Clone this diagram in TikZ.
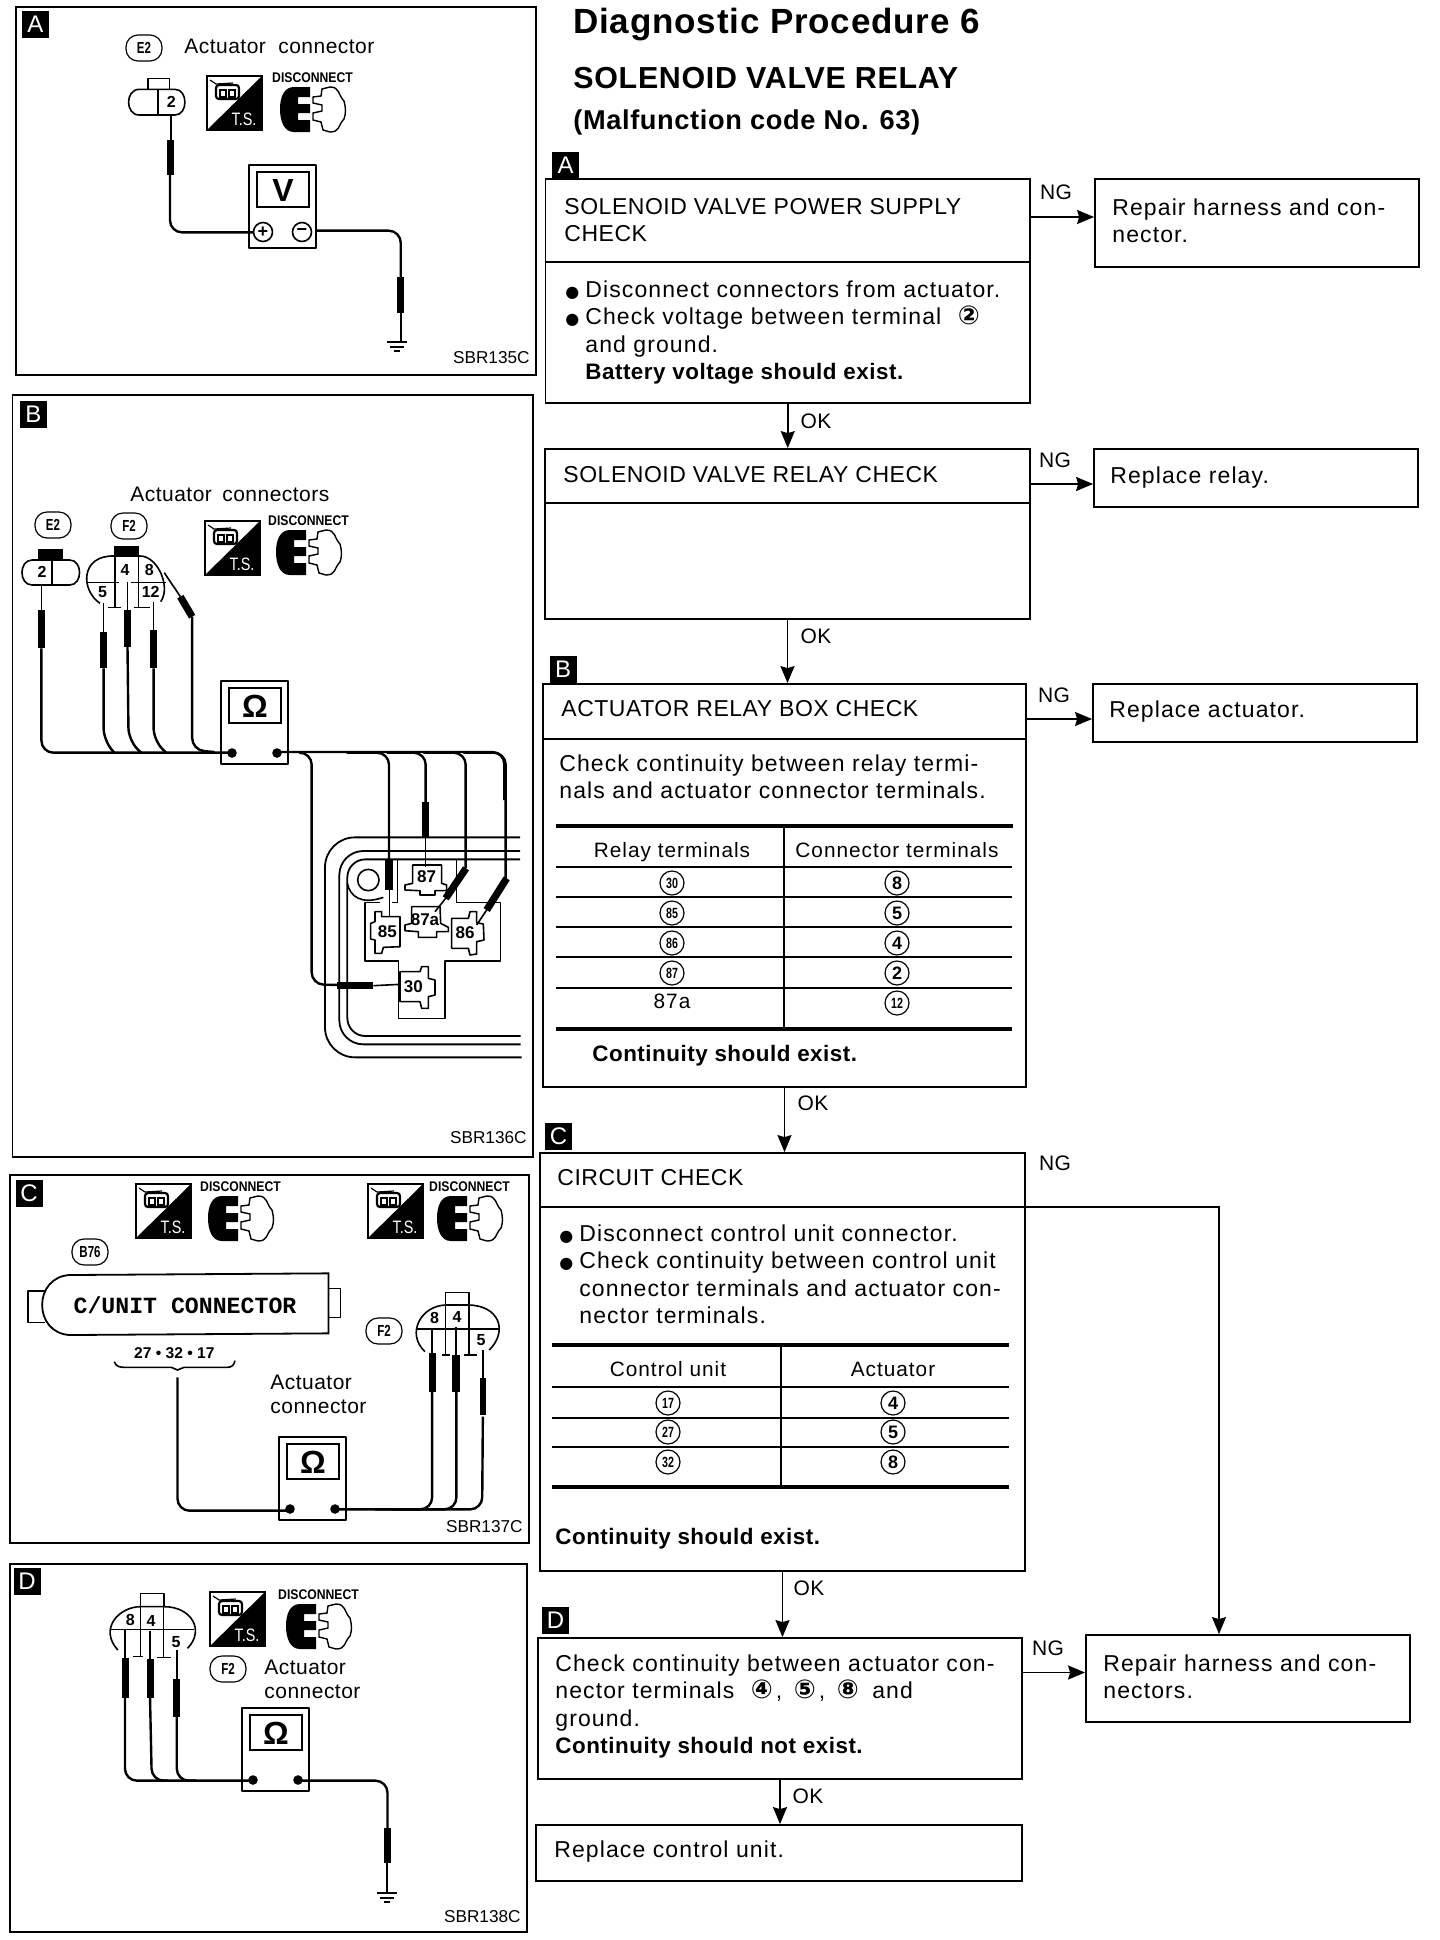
\documentclass[tikz,border=0pt]{standalone}
\usepackage{fontspec}
\usetikzlibrary{arrows.meta,fit}
\setmainfont[LetterSpace=2.3]{Liberation Sans}
\newfontfamily\plainfam{Liberation Sans}
\newfontfamily\bodyfam[LetterSpace=4.8]{Liberation Sans}
\newfontfamily\djfam{DejaVu Sans}
\newfontfamily\monofam{Liberation Mono}
\newcommand\tfont{\fontsize{11.5}{13.75}\selectfont}
\newcommand\lblfont{\fontsize{10.5}{13}\selectfont}
\newcommand\smfont{\fontsize{8.6}{10}\selectfont}
\newcommand\bul{\makebox[10pt][l]{\djfam\fontsize{8}{8}\selectfont ●}}
\newcommand\ind{\hspace*{10pt}}
\newcommand\bd[1]{{\normalfont\bfseries\fontsize{11.2}{13.75}\selectfont #1}}
\newcommand\cn[1]{{\djfam\bfseries\fontsize{13}{13}\selectfont #1}}
\newcommand\nar[1]{\scalebox{.72}[1]{#1}}
\tikzset{
 ln/.style={line width=.8pt,line join=round},
 wire/.style={line width=1.2pt,line join=round,rounded corners=6pt},
 twire/.style={line width=.8pt},
 sheath/.style={line width=3.6pt},
 dotn/.style={circle,fill=black,inner sep=0,minimum size=4.8pt},
 bx/.style={draw,line width=.9pt,inner sep=0},
 tl/.style={anchor=north west,inner sep=0,align=left,font=\bodyfam\tfont},
 tc/.style={anchor=north west,inner sep=0,align=left,font=\tfont},
 lbl/.style={fill=black,text=white,inner sep=0,minimum width=13.5pt,minimum height=13.5pt,font=\plainfam\fontsize{12}{12}\selectfont},
 pill/.style={draw,line width=.6pt,rounded corners=6pt,inner sep=0,minimum width=18pt,minimum height=13pt,font=\plainfam\bfseries\fontsize{8}{8}\selectfont},
 cnum/.style={circle,draw,line width=.6pt,inner sep=0,minimum size=12pt,font=\plainfam\bfseries\fontsize{7.4}{7.4}\selectfont},
 cnumb/.style={cnum,font=\plainfam\bfseries\fontsize{9}{9}\selectfont},
 numt/.style={inner sep=0,font=\plainfam\bfseries\fontsize{8}{8}\selectfont},
 relt/.style={inner sep=0,font=\plainfam\bfseries\fontsize{8.5}{8.5}\selectfont},
 capt/.style={inner sep=0,font=\lblfont,align=left,anchor=north west},
 sbr/.style={inner sep=0,font=\plainfam\smfont,anchor=east},
 hdr/.style={inner sep=0,text height=7.4pt,text depth=2pt,font=\bodyfam\fontsize{10.4}{12}\selectfont},
 arr/.style={line width=.8pt,-{Stealth[length=8.5pt,width=7pt,inset=1pt]}},
 zk/.style={x=0.17857pt,y=-0.16667pt},
 zt/.style={x=0.16667pt,y=-0.16667pt},
 tsicon/.pic={
  \draw[line width=.8pt,fill=white] (0,0) rectangle (55,54);
  \fill (55,0)--(55,54)--(0,54)--cycle;
  \draw[line width=.6pt] (3,4)--(9,8)--(26,7);
  \draw[line width=1.1pt,rounded corners=1.5pt] (9,9) rectangle (32,23);
  \draw[line width=.7pt] (13,14) rectangle (19,21) (22,14) rectangle (28,21);
  \node[inner sep=0,text=white,font=\plainfam\fontsize{9}{9}\selectfont] (-t) at (37,43) {\scalebox{.8}[1]{T.S.}};
 },
 discon/.pic={
  \fill (30,0)--(14,0).. controls (4,0) and (0,10) .. (0,22) .. controls (0,34) and (4,45) .. (14,45)--(30,45)--(30,33)--(18,33)--(18,26)--(30,26)--(30,17)--(18,17)--(18,10)--(30,10)--cycle;
  \draw[line width=.7pt,fill=white] (33,10)--(41,9)--(42,2)--(50,0).. controls (60,0) and (58,8) .. (64,14) .. controls (66,22) and (66,26) .. (64,32) .. controls (58,38) and (60,45) .. (50,45)--(43,43)--(41,35)--(33,33)--(33,26)--(42,24)--(42,18)--(33,16)--cycle;
  \node[inner sep=0,font=\plainfam\bfseries\fontsize{7}{7}\selectfont] (-d) at (32.5,-9) {\scalebox{.87}[1]{DISCONNECT}};
 },
 pics/meter/.style={code={
  \draw[ln] (0,0) rectangle (67,83);
  \draw[line width=.9pt] (8,7) rectangle (60,42);
  \node[inner sep=0,font=\plainfam\bfseries\fontsize{16}{16}\selectfont] (-s) at (34,25) {#1};
  \coordinate (-l) at (11,72);
  \coordinate (-r) at (56,72);
 }},
 gnd/.pic={
  \draw[line width=.8pt] (-10,0)--(10,0) (-7,5)--(7,5) (-3,9)--(3,9);
 }
}
\begin{document}
\begin{tikzpicture}[x=0.5pt,y=-0.5pt]
\useasboundingbox[fill=white] (0,0) rectangle (1440,1940);

%% ---------- panels ----------
\coordinate (pa1) at (16,7);\coordinate (pa2) at (536,375);
\coordinate (pb1) at (12.5,395);\coordinate (pb2) at (533,1157);
\coordinate (pc1) at (10,1175);\coordinate (pc2) at (529,1543);
\coordinate (pd1) at (10,1564);\coordinate (pd2) at (527,1932);
\node[bx,fit=(pa1)(pa2)] (panelA) {};
\node[bx,fit=(pb1)(pb2)] (panelB) {};
\node[bx,fit=(pc1)(pc2)] (panelC) {};
\node[bx,fit=(pd1)(pd2)] (panelD) {};
\node[lbl] (la) at (35.5,24) {A};
\node[lbl] (lb) at (33.5,414) {B};
\node[lbl] (lc) at (29,1193) {C};
\node[lbl] (ld) at (27,1581) {D};
\node[sbr] (sa) at (530,358) {SBR135C};
\node[sbr] (sb) at (527,1138) {SBR136C};
\node[sbr] (sc) at (523,1527) {SBR137C};
\node[sbr] (sd) at (521,1917) {SBR138C};

%% ---------- panel A ----------
\node[pill] (pillA) at (144,48) {\nar{E2}};
\node[capt,anchor=west] (capA) at (184,46) {Actuator\hspace{3pt} connector};
\pic (tsA) at (207,76) {tsicon};
\pic (dcA) at (280,87) {discon};
\pic (mA) at (249,165) {meter={V}};
\node[circle,draw,line width=.8pt,inner sep=0,minimum size=9.5pt,font=\plainfam\bfseries\fontsize{9}{9}\selectfont] (mAp) at (263,232) {+};
\node[circle,draw,line width=.8pt,inner sep=0,minimum size=9.5pt,font=\plainfam\bfseries\fontsize{9}{9}\selectfont] (mAm) at (302,232) {−};
\pic (gA) at (397,342) {gnd};
\begin{scope}[shift={(0,0)},zk]
 \draw[ln] (415,268)--(415,235)--(475,235)--(475,268);
 \draw[ln] (390,268)--(490,268).. controls (527,268) and (527,345) .. (490,345)--(390,345).. controls (350,345) and (350,268) .. (390,268)--cycle;
 \draw[ln] (442,268)--(442,345);
 \node[numt] (a2) at (480,305) {2};
 \draw[twire] (478,345)--(478,425);
 \draw[sheath] (478,420)--(478,525);
 \draw[wire] (476,525)--(476,697)--(708,697);
 \draw[wire] (884,692)--(1122,692)--(1122,835);
 \draw[sheath] (1122,830)--(1122,940);
 \draw[twire] (1122,940)--(1122,1027);
\end{scope}

%% ---------- panel B ----------
\node[capt,anchor=west] (capB) at (130,494) {Actuator\hspace{2pt} connectors};
\node[pill] (pillB1) at (53,525) {\nar{E2}};
\node[pill] (pillB2) at (129,526) {\nar{F2}};
\pic (tsB) at (205,521) {tsicon};
\pic (dcB) at (276,530) {discon};
\pic (mB) at (221,681) {meter={Ω}};
\node[dotn] (mBl) at (mB-l) {};
\node[dotn] (mBr) at (mB-r) {};
\begin{scope}[shift={(0,400)},zk]
 \fill (107,447) rectangle (177,480);
 \draw[ln] (90,480)--(195,480).. controls (232,480) and (232,555) .. (195,555)--(90,555).. controls (52,555) and (52,480) .. (90,480)--cycle;
 \draw[ln] (145,480)--(145,555);
 \node[numt] (b2) at (118,515) {2};
 \fill (320,437) rectangle (390,470);
 \draw[ln] (280,610).. controls (225,570) and (225,465) .. (320,468)--(390,468).. controls (440,465) and (480,560) .. (450,605);
 \draw[ln] (242,548)--(332,548) (368,548)--(465,548);
 \draw[ln] (322,468)--(322,622) (302,622)--(340,622);
 \draw[ln] (388,468)--(388,622) (375,622)--(420,622);
 \node[numt] (b5) at (287,577) {5};
 \node[numt] (b4) at (350,510) {4};
 \node[numt] (b8) at (418,510) {8};
 \node[numt] (b12) at (422,576) {12};
 \draw[twire] (116,555)--(116,635);
 \draw[sheath] (116,630)--(116,745);
 \draw[wire] (116,745)--(116,1058)--(650,1058);
 \draw[twire] (290,608)--(290,700);
 \draw[sheath] (290,695)--(290,805);
 \draw[wire] (290,805)--(290,1020)--(320,1058);
 \draw[twire] (357,545)--(357,635);
 \draw[sheath] (357,630)--(357,740);
 \draw[wire] (357,740)--(360,1020)--(395,1058);
 \draw[twire] (430,605)--(430,695);
 \draw[sheath] (430,690)--(430,805);
 \draw[wire] (430,805)--(430,1020)--(465,1058);
 \draw[twire] (460,518)--(505,590);
 \draw[sheath] (505,590)--(538,650);
 \draw[wire] (538,650)--(538,1050)--(600,1056);
 \draw[wire] (775,1056)--(1412,1056)--(1412,1200);
\end{scope}
\begin{scope}[shift={(280,740)},zt]
 \draw[wire] (60,38)--(95,38)--(95,733)--(180,735);
 \draw[sheath] (172,737)--(280,737);
 \draw[twire] (280,737)--(360,733);
 \draw[wire] (200,38)--(327,38)--(327,360);
 \draw[sheath] (327,360)--(327,450);
 \draw[twire] (329,450)--(329,530);
 \draw[wire] (320,38)--(437,38)--(437,190);
 \draw[sheath] (437,185)--(437,290);
 \draw[twire] (437,290)--(437,380);
 \draw[wire] (430,38)--(557,38)--(557,385);
 \draw[sheath] (558,385)--(497,475);
 \draw[twire] (497,475)--(465,515);
 \draw[wire] (550,38)--(677,38)--(677,415);
 \draw[sheath] (680,415)--(620,510);
 \draw[twire] (620,510)--(590,555);
 \draw[line width=.9pt,rounded corners=15pt] (720,292)--(135,292)--(135,952)--(725,952);
 \draw[line width=.9pt,rounded corners=12pt] (720,333)--(178,333)--(178,913)--(722,913);
 \draw[line width=.9pt,rounded corners=9pt] (720,358)--(202,358)--(202,888)--(722,888);
 \draw[line width=.8pt,fill=white] (265,420) circle[radius=32];
 \draw[line width=.8pt] (202,430).. controls (210,470) and (245,495) .. (310,472);
 \draw[ln] (300,488)--(255,488)--(255,663)--(355,663)--(355,835)--(495,835)--(495,663)--(662,663)--(662,487)--(530,487)--(530,360);
 \draw[ln] (352,360)--(352,487)--(335,487);
 \draw[ln] (398,375)--(485,375)--(485,430)--(500,435)--(500,452)--(465,452)--(465,465)--(420,465)--(420,452)--(375,450)--(375,435)--(398,430)--cycle;
 \draw[ln] (395,500)--(480,500)--(482,550)--(505,562)--(505,575)--(470,575)--(470,592)--(415,592)--(415,575)--(375,572)--(375,555)--(395,550)--cycle;
 \draw[ln] (285,515)--(305,515)--(305,530)--(360,530)--(360,620)--(310,622)--(305,640)--(285,640)--(285,600)--(272,597)--(272,550)--(285,545)--cycle;
 \draw[ln] (515,535)--(565,535)--(570,515)--(590,515)--(590,548)--(610,552)--(612,600)--(590,605)--(590,642)--(570,645)--(565,625)--(515,625)--cycle;
 \draw[ln] (360,695)--(420,695)--(425,680)--(445,680)--(445,715)--(465,720)--(465,765)--(445,770)--(445,805)--(425,805)--(420,785)--(360,785)--cycle;
 \node[relt] (t87) at (440,410) {87};
 \node[relt] (t87a) at (435,540) {87a};
 \node[relt] (t85) at (322,575) {85};
 \node[relt] (t86) at (555,578) {86};
 \node[relt] (t30) at (400,740) {30};
\end{scope}

%% ---------- panel C ----------
\pic (tsC1) at (136,1184) {tsicon};
\pic (dcC1) at (208,1196) {discon};
\pic (tsC2) at (368,1184) {tsicon};
\pic (dcC2) at (437,1196) {discon};
\node[pill] (pillC1) at (90,1252) {\nar{B76}};
\node[pill] (pillC2) at (384,1331) {\nar{F2}};
\pic (mC) at (279,1437) {meter={Ω}};
\node[dotn] (mCl) at (mC-l) {};
\node[dotn] (mCr) at (mC-r) {};
\node[capt,anchor=west] (capC) at (270,1382) {Actuator};
\node[capt,anchor=west] (capC2) at (270,1407) {connector};
\begin{scope}[shift={(0,1170)},zk]
 \draw[line width=.9pt] (920,310)--(195,315).. controls (145,318) and (118,360) .. (118,405).. controls (118,450) and (145,492) .. (195,495)--(920,490)--cycle;
 \draw[ln] (125,363)--(78,363)--(78,457)--(125,457);
 \draw[ln] (920,355)--(953,355)--(953,443)--(920,443);
 \node[inner sep=0,font=\monofam\bfseries\fontsize{11.6}{12}\selectfont] (cu) at (518,405) {C/UNIT CONNECTOR};
 \node[inner sep=0,font=\plainfam\bfseries\fontsize{7.8}{8}\selectfont] (cnums) at (488,548) {27 • 32 • 17};
 \draw[ln] (320,575).. controls (325,590) and (335,592) .. (350,592)--(480,592)--(497,600)--(515,592)--(635,592).. controls (650,592) and (655,585) .. (658,572);
 \draw[wire] (497,622)--(497,1022)--(815,1022);
 \draw[wire] (938,1018)--(1350,1018)--(1352,740);
 \draw[wire] (1100,1018)--(1278,1018)--(1278,660);
 \draw[wire] (1050,1018)--(1210,1018)--(1210,660);
 \draw[sheath] (1211,550)--(1211,665);
 \draw[sheath] (1277,555)--(1277,665);
 \draw[sheath,line width=3pt] (1353,625)--(1353,735);
 \draw[twire] (1210,475)--(1210,555) (1277,470)--(1277,560) (1352,540)--(1352,630);
 \draw[ln] (1190,545).. controls (1135,490) and (1180,405) .. (1250,405)--(1310,405).. controls (1395,405) and (1425,480) .. (1370,540);
 \draw[ln] (1165,477)--(1398,477);
 \draw[ln] (1247,405)--(1247,368)--(1313,368)--(1313,405);
 \draw[ln] (1247,405)--(1247,555) (1238,555)--(1260,555);
 \draw[ln] (1313,405)--(1313,555) (1300,555)--(1335,555);
 \node[numt] (c8) at (1217,443) {8};
 \node[numt] (c4) at (1280,440) {4};
 \node[numt] (c5) at (1347,510) {5};
\end{scope}

%% ---------- panel D ----------
\pic (tsD) at (210,1592) {tsicon};
\pic (dcD) at (286,1604) {discon};
\node[pill] (pillD) at (228,1669) {\nar{F2}};
\node[capt,anchor=west] (capD) at (264,1667) {Actuator};
\node[capt,anchor=west] (capD2) at (264,1692) {connector};
\pic (mD) at (242,1708) {meter={Ω}};
\node[dotn] (mDl) at (mD-l) {};
\node[dotn] (mDr) at (mD-r) {};
\pic (gD) at (387,1893) {gnd};
\begin{scope}[shift={(0,1560)},zk]
 \draw[ln] (330,270).. controls (275,205) and (335,140) .. (393,140)--(460,140).. controls (535,140) and (575,210) .. (525,265);
 \draw[ln] (312,208)--(543,208);
 \draw[ln] (393,140)--(393,100)--(460,100)--(460,140);
 \draw[ln] (393,140)--(393,290) (373,290)--(400,290);
 \draw[ln] (458,140)--(458,292) (440,292)--(480,292);
 \node[numt] (d8) at (365,180) {8};
 \node[numt] (d4) at (423,182) {4};
 \node[numt] (d5) at (493,247) {5};
 \draw[twire] (350,210)--(350,300) (420,212)--(420,300) (495,270)--(495,360);
 \draw[sheath] (352,295)--(352,413);
 \draw[sheath] (421,298)--(421,413);
 \draw[sheath] (495,358)--(495,472);
 \draw[wire] (350,410)--(350,662)--(706,662);
 \draw[wire] (420,410)--(425,662)--(470,662);
 \draw[wire] (495,470)--(495,662)--(550,662);
 \draw[wire] (833,662)--(1085,662)--(1085,805);
 \draw[sheath] (1084,803)--(1084,910);
 \draw[twire] (1084,910)--(1084,998);
\end{scope}

%% ---------- heading ----------
\node[inner sep=0,anchor=west,font=\bfseries\fontsize{17.5}{18}\selectfont] (title) at (573,25) {Diagnostic Procedure 6};
\node[inner sep=0,anchor=west,font=\bfseries\fontsize{15.2}{16}\selectfont] (title2) at (573,78) {SOLENOID VALVE RELAY};
\node[inner sep=0,anchor=west,font=\bfseries\fontsize{13.6}{14}\selectfont] (title3) at (573,122) {(Malfunction code No. 63)};

%% ---------- flow boxes ----------
\newcommand\flowbox[5]{\coordinate (#1-a) at (#2,#3);\coordinate (#1-b) at (#4,#5);\node[bx,fit=(#1-a)(#1-b)] (#1) {};}
\flowbox{bA}{545.5}{179}{1030}{403}
\flowbox{rA}{1095}{179}{1419}{267}
\flowbox{bR}{545}{449}{1030}{619}
\flowbox{rR}{1094}{449}{1418}{507}
\flowbox{bB}{543}{684}{1026}{1087}
\flowbox{rB}{1093}{684}{1417}{742}
\flowbox{bC}{540}{1153}{1025}{1571}
\flowbox{rC}{1086}{1635}{1410}{1722}
\flowbox{bD}{538}{1638}{1022}{1779}
\flowbox{bE}{536}{1825}{1022}{1881}
\coordinate (dA) at (545.5,262); \coordinate (dR) at (545,503); \coordinate (dB) at (543,739); \coordinate (dC) at (540,1207);
\draw[bx] (dA)--(dA-|bA.east);
\draw[bx] (dR)--(dR-|bR.east);
\draw[bx] (dB)--(dB-|bB.east);
\draw[bx] (dC)--(dC-|bC.east);
\node[lbl] (fa) at (565.5,165.5) {A};
\node[lbl] (fb) at (563,669.5) {B};
\node[lbl] (fc) at (558.5,1136.5) {C};
\node[lbl] (fd) at (555.5,1620.5) {D};

\node[tc] (tA) at (564,198) {SOLENOID VALVE POWER SUPPLY\\CHECK};
\node[tl] (tA2) at (565,280) {\bul Disconnect connectors from actuator.\\\bul Check voltage between terminal \hspace{4.5pt}\cn{②}\\\ind and ground.\\\ind\bd{Battery voltage should exist.}};
\node[tl] (tRA) at (1112,198) {Repair harness and con-\\nector.};
\node[tc] (tR) at (563,466) {SOLENOID VALVE RELAY CHECK};
\node[tl] (tRR) at (1110,466) {Replace relay.};
\node[tc] (tB) at (561,700) {ACTUATOR RELAY BOX CHECK};
\node[tl] (tRB) at (1109,700) {Replace actuator.};
\node[tl] (tB2) at (559,754) {Check continuity between relay termi-\\nals and actuator connector terminals.};
\node[tc] (tC) at (557,1169) {CIRCUIT CHECK};
\node[tl] (tC2) at (559,1224) {\bul Disconnect control unit connector.\\\bul Check continuity between control unit\\\ind connector terminals and actuator con-\\\ind nector terminals.};
\node[tl] (tD) at (555,1654) {Check continuity between actuator con-\\nector terminals \hspace{4.5pt}\cn{④}\hspace{1.5pt}, \hspace{2pt}\cn{⑤}\hspace{1.5pt}, \hspace{2pt}\cn{⑧} \hspace{3pt}and\\ground.\\\bd{Continuity should not exist.}};
\node[tl] (tRC) at (1103,1654) {Repair harness and con-\\nectors.};
\node[tl] (tE) at (554,1840) {Replace control unit.};

%% ---------- table B ----------
\draw[line width=1.6pt] (556,826)--(1013,826);
\draw[line width=1.6pt] (556,1029)--(1012,1029);
\draw[line width=1.1pt] (784,826)--(784,1029);
\foreach \y in {867,897,927,957,988}{\draw[line width=.9pt] (556,\y)--(1012,\y);}
\node[hdr] (h1) at (672,852) {Relay terminals};
\node[hdr] (h2) at (897,852) {Connector terminals};
\foreach \y/\a/\b [count=\i] in {883/30/8,913/85/5,943/86/4,973/87/2}{
 \node[cnum] (rl\i) at (672,\y) {\nar{\a}};
 \node[cnumb] (cl\i) at (897,\y) {\b};
}
\node[hdr] (rl5) at (672,1003) {87a};
\node[cnum] (cl5) at (897,1003) {\nar{12}};
\node[tl,anchor=west] (contB) at (592,1056) {\bd{Continuity should exist.}};

%% ---------- table C ----------
\draw[line width=1.6pt] (552,1345)--(1009,1345);
\draw[line width=1.6pt] (552,1487)--(1009,1487);
\draw[line width=1.1pt] (781,1345)--(781,1487);
\foreach \y in {1387,1418,1447}{\draw[line width=.9pt] (552,\y)--(1009,\y);}
\node[hdr] (h3) at (668,1371) {Control unit};
\node[hdr] (h4) at (893,1371) {Actuator};
\foreach \y/\a/\b [count=\i] in {1403/17/4,1432/27/5,1462/32/8}{
 \node[cnum] (ru\i) at (668,\y) {\nar{\a}};
 \node[cnumb] (au\i) at (893,\y) {\b};
}
\node[tl,anchor=west] (contC) at (555,1539) {\bd{Continuity should exist.}};

%% ---------- connectors ----------
\draw[arr] (bA.south)--(bA.south|-bR.north);
\draw[arr] (bR.south)--(bR.south|-bB.north);
\draw[arr] (bB.south)--(bB.south|-bC.north);
\draw[arr] (bC.south)--(bC.south|-bD.north);
\draw[arr] (bD.south)--(bD.south|-bE.north);
\draw[arr] ([yshift=3pt]rA.west-|bA.east)--([yshift=3pt]rA.west);
\draw[arr] ([yshift=-3pt]rR.west-|bR.east)--([yshift=-3pt]rR.west);
\draw[arr] ([yshift=-3pt]rB.west-|bB.east)--([yshift=-3pt]rB.west);
\draw[arr] ([yshift=3pt]rC.west-|bD.east)--([yshift=3pt]rC.west);
\draw[arr] (dC-|bC.east)-|([xshift=-14.5pt]rC.north);
\node[inner sep=0,font=\lblfont] (okA) at (816,421) {OK};
\node[inner sep=0,font=\lblfont] (okR) at (816,636) {OK};
\node[inner sep=0,font=\lblfont] (okB) at (813,1103) {OK};
\node[inner sep=0,font=\lblfont] (okC) at (809,1588) {OK};
\node[inner sep=0,font=\lblfont] (okD) at (808,1796) {OK};
\node[inner sep=0,font=\lblfont] (ngA) at (1056,192) {NG};
\node[inner sep=0,font=\lblfont] (ngR) at (1055,460) {NG};
\node[inner sep=0,font=\lblfont] (ngB) at (1054,695) {NG};
\node[inner sep=0,font=\lblfont] (ngC) at (1055,1163) {NG};
\node[inner sep=0,font=\lblfont] (ngD) at (1048,1648) {NG};
\end{tikzpicture}
\end{document}
